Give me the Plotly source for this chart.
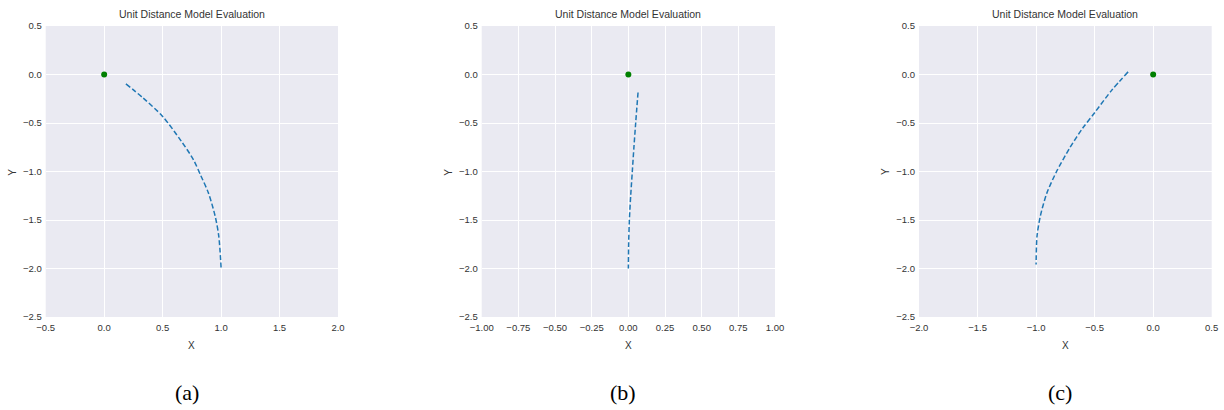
import plotly.graph_objects as go

# Panel (a)
a_x = [0.186, 0.334, 0.50, 0.66, 0.763, 0.826, 0.891, 0.949, 0.98, 1.0]
a_y = [-0.096, -0.243, -0.432, -0.688, -0.877, -1.041, -1.219, -1.459, -1.664, -1.99]
# Panel (b)
b_x = [0.066, 0.050, 0.038, 0.027, 0.016, 0.007, 0.002, 0.0]
b_y = [-0.185, -0.5, -0.75, -1.0, -1.25, -1.5, -1.75, -2.0]
# Panel (c)
c_x = [-0.214, -0.353, -0.50, -0.603, -0.714, -0.825, -0.908, -0.964, -0.992, -1.0]
c_y = [0.027, -0.161, -0.394, -0.555, -0.760, -1.0, -1.223, -1.462, -1.668, -1.959]
# Goal point
goal_x = [0.0]
goal_y = [0.0]

a_xticks = [-0.5, 0.0, 0.5, 1.0, 1.5, 2.0]
b_xticks = [-1.0, -0.75, -0.5, -0.25, 0.0, 0.25, 0.5, 0.75, 1.0]
c_xticks = [-2.0, -1.5, -1.0, -0.5, 0.0, 0.5]
yticks = [0.5, 0.0, -0.5, -1.0, -1.5, -2.0, -2.5]

title_text = "Unit Distance Model Evaluation"
captions = ["(a)", "(b)", "(c)"]

FONT = "Liberation Sans Narrow, Liberation Sans, Arial, sans-serif"
TXT = "#333333"
BG = "#EAEAF2"
BLUE = "#1f77b4"

panels = [
    (a_x, a_y, a_xticks, [-0.5, 2.0], ".1f", (45.7, 338.0)),
    (b_x, b_y, b_xticks, [-1.0, 1.0], ".2f", (481.7, 775.0)),
    (c_x, c_y, c_xticks, [-2.0, 0.5], ".1f", (919.0, 1211.7)),
]

W, H = 1224, 410
ytop, ybot = 26.0, 317.0

fig = go.Figure()
annotations = []
layout = dict(
    width=W, height=H,
    margin=dict(l=0, r=0, t=0, b=0, autoexpand=False),
    paper_bgcolor="white",
    plot_bgcolor=BG,
    showlegend=False,
    font=dict(family=FONT, color=TXT, size=9.5),
)

for i, (px, py, xt, xr, fmt, (x0, x1)) in enumerate(panels):
    sfx = "" if i == 0 else str(i + 1)
    xa, ya = "x" + sfx, "y" + sfx
    fig.add_trace(go.Scatter(
        x=px, y=py, mode="lines", xaxis=xa, yaxis=ya,
        line=dict(color=BLUE, width=1.5, dash="5px,2.5px", shape="spline", smoothing=0.8),
        hoverinfo="skip",
    ))
    fig.add_trace(go.Scatter(
        x=goal_x, y=goal_y, mode="markers", xaxis=xa, yaxis=ya,
        marker=dict(color="green", size=6),
        hoverinfo="skip",
    ))
    dom_x = [x0 / W, x1 / W]
    dom_y = [1 - ybot / H, 1 - ytop / H]
    layout["xaxis" + sfx] = dict(
        domain=dom_x, range=xr, tickvals=xt, tickformat=fmt,
        showgrid=True, gridcolor="white", gridwidth=1,
        zeroline=False, showline=False, ticks="", automargin=False,
        ticklabelstandoff=3,
        tickfont=dict(family=FONT, size=9.5, color=TXT),
        anchor=ya, fixedrange=True,
    )
    layout["yaxis" + sfx] = dict(
        domain=dom_y, range=[-2.5, 0.5], tickvals=yticks, tickformat=".1f",
        showgrid=True, gridcolor="white", gridwidth=1,
        zeroline=False, showline=False, ticks="", automargin=False,
        ticklabelstandoff=3,
        tickfont=dict(family=FONT, size=9.5, color=TXT),
        anchor=xa, fixedrange=True,
    )
    xc = (x0 + x1) / 2 / W
    annotations.append(dict(
        text=title_text, xref="paper", yref="paper", x=xc, y=1 - 14 / H,
        showarrow=False, xanchor="center", yanchor="middle",
        font=dict(family=FONT, size=10.5, color=TXT),
    ))
    annotations.append(dict(
        text="X", xref="paper", yref="paper", x=xc, y=1 - 345 / H,
        showarrow=False, xanchor="center", yanchor="middle",
        font=dict(family=FONT, size=10, color=TXT),
    ))
    annotations.append(dict(
        text="Y", xref="paper", yref="paper", x=(x0 - 33) / W, y=1 - 172 / H,
        showarrow=False, xanchor="center", yanchor="middle", textangle=-90,
        font=dict(family=FONT, size=10, color=TXT),
    ))
    annotations.append(dict(
        text=captions[i], xref="paper", yref="paper", x=(xc * W - 5) / W, y=1 - 392 / H,
        showarrow=False, xanchor="center", yanchor="middle",
        font=dict(family="Liberation Serif, Times New Roman, serif", size=22, color="black"),
    ))

layout["annotations"] = annotations
fig.update_layout(**layout)
fig.write_html("out.html")
